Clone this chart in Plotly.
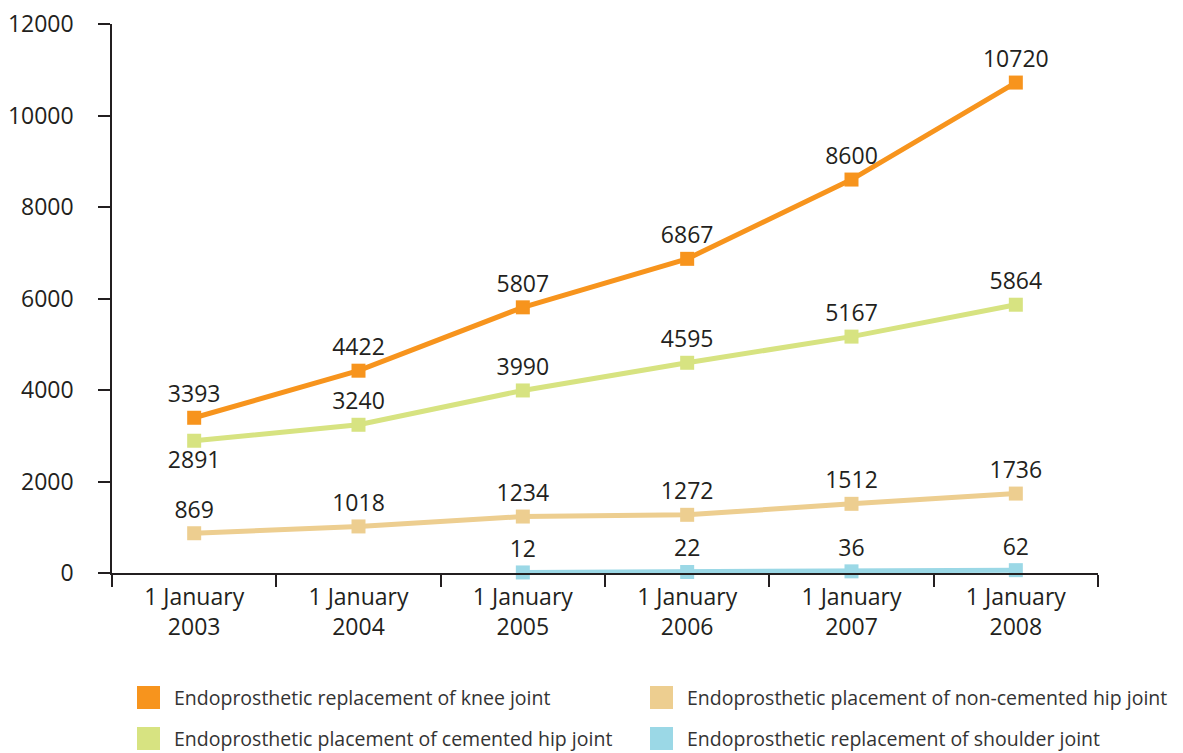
import plotly.graph_objects as go

categories = ["1 January<br>2003", "1 January<br>2004", "1 January<br>2005",
              "1 January<br>2006", "1 January<br>2007", "1 January<br>2008"]
knee = [3393, 4422, 5807, 6867, 8600, 10720]
cemented_hip = [2891, 3240, 3990, 4595, 5167, 5864]
noncemented_hip = [869, 1018, 1234, 1272, 1512, 1736]
shoulder = [None, None, 12, 22, 36, 62]
ytick_vals = [0, 2000, 4000, 6000, 8000, 10000, 12000]
ytick_text = ["0", "2000", "4000", "6000", "8000", "10000", "12000"]

names = {
    "knee": "Endoprosthetic replacement of knee joint",
    "cem": "Endoprosthetic placement of cemented hip joint",
    "noncem": "Endoprosthetic placement of non-cemented hip joint",
    "shoulder": "Endoprosthetic replacement of shoulder joint",
}
colors = {"knee": "#F7941D", "cem": "#D7E381", "noncem": "#EDCE90", "shoulder": "#9BD8E6"}
textcol = "#231F20"
FONT = "Open Sans"

W, H = 1175, 745
ML, MR, MT, MB = 104, 85, 16, 180
PW = W - ML - MR
PH = H - MT - MB

fig = go.Figure()

def add_series(key, vals, positions):
    fig.add_trace(go.Scatter(
        x=categories, y=vals, mode="lines+markers+text",
        line=dict(color=colors[key], width=5),
        marker=dict(symbol="square", size=14, color=colors[key]),
        text=[None if v is None else str(v) for v in vals],
        textposition=positions,
        textfont=dict(family=FONT, size=23, color=textcol),
        showlegend=False, cliponaxis=False, connectgaps=False,
        name=names[key]))

add_series("noncem", noncemented_hip, "top center")
add_series("shoulder", shoulder, "top center")
add_series("cem", cemented_hip, ["bottom center"] + ["top center"] * 5)
add_series("knee", knee, "top center")

# manual two-column legend (swatch + label), positioned in paper coordinates
def px_x(px):
    return (px - ML) / PW

def px_y(py):
    return (MT + PH - py) / PH

legend_items = [("knee", 129, 678), ("cem", 129, 719), ("noncem", 642, 678), ("shoulder", 642, 719)]
SW = 23
for key, x0, y0 in legend_items:
    fig.add_shape(type="rect", xref="paper", yref="paper",
                  x0=px_x(x0), x1=px_x(x0 + SW), y0=px_y(y0 + SW), y1=px_y(y0),
                  fillcolor=colors[key], line=dict(width=0), layer="above")
    fig.add_annotation(xref="paper", yref="paper", x=px_x(x0 + 35), y=px_y(y0 + SW / 2),
                       xanchor="left", yanchor="middle", showarrow=False,
                       text=names[key], font=dict(family=FONT, size=19.5, color="#333333"))

fig.update_layout(
    width=W, height=H,
    margin=dict(l=ML, r=MR, t=MT, b=MB, autoexpand=False),
    paper_bgcolor="white", plot_bgcolor="white",
    font=dict(family=FONT, color=textcol),
    showlegend=False,
)
fig.update_xaxes(
    type="category", range=[-0.5, 5.5],
    showline=True, linecolor=textcol, linewidth=1.5,
    ticks="outside", tickson="boundaries", ticklen=12, tickcolor=textcol, tickwidth=1.5,
    ticklabelstandoff=3,
    tickfont=dict(family=FONT, size=23, color=textcol),
    showgrid=False, zeroline=False,
)
fig.update_yaxes(
    range=[0, 12000], tickvals=ytick_vals, ticktext=ytick_text,
    showline=True, linecolor=textcol, linewidth=1.5,
    ticks="outside", ticklen=12, tickcolor=textcol, tickwidth=1.5,
    ticklabelstandoff=20, ticklabeloverflow="allow",
    tickfont=dict(family=FONT, size=23, color=textcol),
    showgrid=False, zeroline=False,
)

fig.write_html("out.html")
